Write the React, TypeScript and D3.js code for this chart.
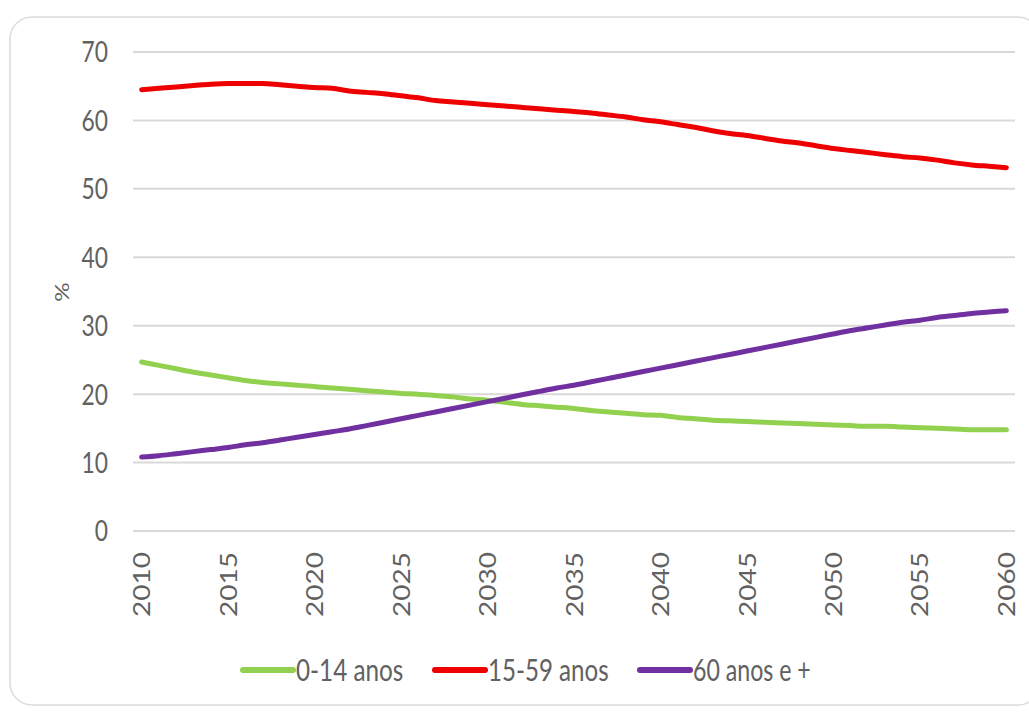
import React from "react";
import * as d3 from "d3";

const years: number[] = d3.range(2010, 2061);

const age0to14: number[] = [
  24.7, 24.2, 23.7, 23.2, 22.8, 22.4, 22.0, 21.7, 21.5, 21.3,
  21.1, 20.9, 20.7, 20.5, 20.3, 20.1, 20.0, 19.8, 19.6, 19.3,
  19.1, 18.8, 18.5, 18.3, 18.1, 17.9, 17.6, 17.4, 17.2, 17.0,
  16.9, 16.6, 16.4, 16.2, 16.1, 16.0, 15.9, 15.8, 15.7, 15.6,
  15.5, 15.4, 15.3, 15.3, 15.2, 15.1, 15.0, 14.9, 14.8, 14.8,
  14.8,
];

const age15to59: number[] = [
  64.5, 64.7, 64.9, 65.1, 65.3, 65.4, 65.4, 65.4, 65.2, 65.0,
  64.8, 64.7, 64.3, 64.1, 63.9, 63.6, 63.3, 62.9, 62.7, 62.5,
  62.3, 62.1, 61.9, 61.7, 61.5, 61.3, 61.1, 60.8, 60.5, 60.1,
  59.8, 59.4, 59.0, 58.5, 58.1, 57.8, 57.4, 57.0, 56.7, 56.3,
  55.9, 55.6, 55.3, 55.0, 54.7, 54.5, 54.2, 53.8, 53.5, 53.3,
  53.1,
];

const age60plus: number[] = [
  10.8, 11.0, 11.3, 11.6, 11.9, 12.2, 12.6, 12.9, 13.3, 13.7,
  14.1, 14.5, 14.9, 15.4, 15.9, 16.4, 16.9, 17.4, 17.9, 18.4,
  18.9, 19.4, 19.9, 20.4, 20.9, 21.3, 21.8, 22.3, 22.8, 23.3,
  23.8, 24.3, 24.8, 25.3, 25.8, 26.3, 26.8, 27.3, 27.8, 28.3,
  28.8, 29.3, 29.7, 30.1, 30.5, 30.8, 31.2, 31.5, 31.8, 32.0,
  32.2,
];

const seriesNames: string[] = ["0-14 anos", "15-59 anos", "60 anos e +"];
const seriesColors: string[] = ["#92d050", "#ee0000", "#7030a0"];
const yTicks: number[] = [0, 10, 20, 30, 40, 50, 60, 70];
const xTickYears: number[] = [2010, 2015, 2020, 2025, 2030, 2035, 2040, 2045, 2050, 2055, 2060];
const yAxisTitle = "%";

const W = 1029;
const H = 713;
const FONT = "Lato, 'Open Sans', sans-serif";
const TEXT = "#616161";

export default function App() {
  const x = d3.scaleLinear().domain([2009.5, 2060.5]).range([133, 1015]);
  const y = d3.scaleLinear().domain([0, 70]).range([531, 52]);
  const allSeries = [age0to14, age15to59, age60plus];
  const line = d3
    .line<number>()
    .x((_, i) => x(years[i]))
    .y((d) => y(d))
    .curve(d3.curveMonotoneX);

  const legendX = [243, 435, 640];
  const legendTextLen = [113, 127, 124];

  return (
    <svg
      width={W}
      height={H}
      style={{ position: "absolute", left: 0, top: 0, background: "#fff" }}
    >
      <rect x={0} y={0} width={W} height={H} fill="#fff" />
      <rect
        x={10}
        y={17}
        width={1030}
        height={688}
        rx={22}
        ry={22}
        fill="#fff"
        stroke="#dcdcdc"
        strokeWidth={1.5}
      />
      {yTicks.map((t) => (
        <line
          key={"g" + t}
          x1={133}
          x2={1015}
          y1={y(t)}
          y2={y(t)}
          stroke="#d9d9d9"
          strokeWidth={2}
        />
      ))}
      {yTicks.map((t) => (
        <text
          key={"yl" + t}
          transform={`translate(108,${y(t)}) scale(0.95,1.2)`}
          textAnchor="end"
          dy="0.36em"
          fontFamily={FONT}
          fontSize={24}
          fill={TEXT}
        >
          {t}
        </text>
      ))}
      <text
        transform={`translate(62,292) rotate(-90) scale(1.1,0.9)`}
        textAnchor="middle"
        dy="0.36em"
        fontFamily={FONT}
        fontSize={22}
        fill={TEXT}
      >
        {yAxisTitle}
      </text>
      {xTickYears.map((yr) => (
        <text
          key={"xl" + yr}
          transform={`translate(${x(yr)},552) rotate(-90) scale(1.12,0.95)`}
          textAnchor="end"
          dy="0.36em"
          fontFamily={FONT}
          fontSize={25}
          fill={TEXT}
        >
          {yr}
        </text>
      ))}
      {allSeries.map((s, i) => (
        <path
          key={"s" + i}
          d={line(s) || ""}
          fill="none"
          stroke={seriesColors[i]}
          strokeWidth={5}
          strokeLinecap="round"
          strokeLinejoin="round"
        />
      ))}
      {seriesNames.map((n, i) => (
        <g key={"lg" + i}>
          <line
            x1={legendX[i]}
            x2={legendX[i] + 50}
            y1={670}
            y2={670}
            stroke={seriesColors[i]}
            strokeWidth={6}
            strokeLinecap="round"
          />
          <text
            transform={`translate(${legendX[i] + 53},670) scale(0.95,1.15)`}
            dy="0.36em"
            fontFamily={FONT}
            fontSize={26}
            fill={TEXT}
            textLength={legendTextLen[i]}
            lengthAdjust="spacingAndGlyphs"
          >
            {n}
          </text>
        </g>
      ))}
    </svg>
  );
}
